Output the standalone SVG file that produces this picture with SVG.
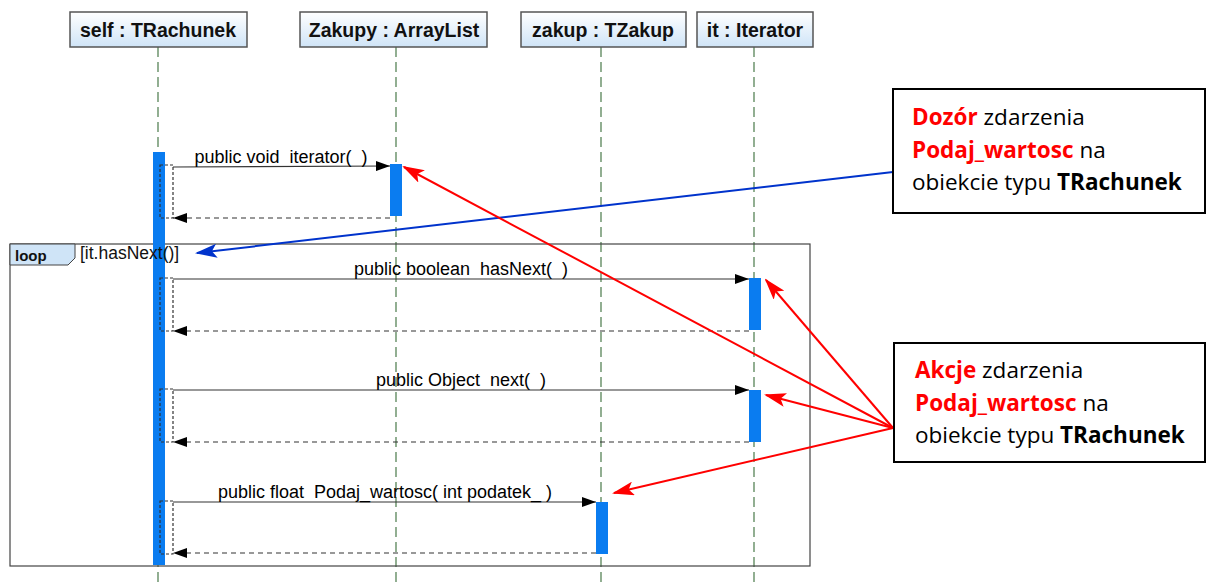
<svg xmlns="http://www.w3.org/2000/svg" width="1207" height="585" viewBox="0 0 1207 585">
<defs>
<linearGradient id="hg" x1="0" y1="0" x2="0" y2="1">
<stop offset="0" stop-color="#ffffff"/>
<stop offset="1" stop-color="#cfe4f7"/>
</linearGradient>
<marker id="ah" markerWidth="14" markerHeight="10" refX="14" refY="5" orient="auto" markerUnits="userSpaceOnUse">
<path d="M0,0 L14,5 L0,10 z" fill="#000"/>
</marker>
<marker id="ar" markerWidth="22" markerHeight="14" refX="20" refY="7" orient="auto" markerUnits="userSpaceOnUse">
<path d="M0,0 L22,7 L0,14 L5,7 z" fill="#ff0000"/>
</marker>
<marker id="ab" markerWidth="22" markerHeight="14" refX="20" refY="7" orient="auto" markerUnits="userSpaceOnUse">
<path d="M0,0 L22,7 L0,14 L5,7 z" fill="#0033cc"/>
</marker>
</defs>
<style>
.hbox{fill:url(#hg);stroke:#555;stroke-width:1.5}
.htxt{font-family:"Liberation Sans",Arial,sans-serif;font-weight:bold;font-size:19.5px;fill:#111;text-anchor:middle}
.life{stroke:#4a7a4a;stroke-width:1.2;stroke-dasharray:10,5}
.act{fill:#0a7cf0}
.msg{stroke:#333;stroke-width:1.2;fill:none}
.ret{stroke:#333;stroke-width:1.2;stroke-dasharray:5,4;fill:none}
.self{stroke:#333;stroke-width:1.2;stroke-dasharray:3,2;fill:none}
.mtxt{font-family:"Liberation Sans",Arial,sans-serif;font-size:18px;fill:#000;text-anchor:middle;white-space:pre}
.note{fill:#fff;stroke:#000;stroke-width:2}
.ntxt{font-family:"Open Sans","Liberation Sans",sans-serif;font-size:22.5px;fill:#000}
.red{fill:#ff0000;font-weight:bold}
.b{font-weight:bold}
</style>
<g id="lifelines">
<line class="life" x1="158" y1="47" x2="158" y2="585"/>
<line class="life" x1="396" y1="47" x2="396" y2="585"/>
<line class="life" x1="601" y1="47" x2="601" y2="585"/>
<line class="life" x1="754" y1="47" x2="754" y2="585"/>
</g>
<g id="self">
<rect class="hbox" x="70" y="12" width="177" height="35"/>
<text class="htxt" x="158" y="37">self : TRachunek</text>
</g>
<g id="zakupy">
<rect class="hbox" x="300" y="12" width="187" height="35"/>
<text class="htxt" x="394" y="37">Zakupy : ArrayList</text>
</g>
<g id="zakup">
<rect class="hbox" x="521" y="12" width="165" height="35"/>
<text class="htxt" x="603" y="37">zakup : TZakup</text>
</g>
<g id="it">
<rect class="hbox" x="697" y="12" width="116" height="35"/>
<text class="htxt" x="755" y="37">it : Iterator</text>
</g>
<g id="loop">
<rect x="10" y="244" width="800" height="322" fill="none" stroke="#444" stroke-width="1.2"/>
<path d="M10,244 L75,244 L75,258 L68,265 L10,265 z" fill="#cfe4f7" stroke="#444" stroke-width="1"/>
<text x="15" y="261" font-family="Liberation Sans,Arial,sans-serif" font-size="15" font-weight="bold" fill="#111">loop</text>
</g>
<g id="activations">
<rect class="act" x="153" y="152" width="12" height="413"/>
<rect class="act" x="390" y="164" width="12" height="52"/>
<rect class="act" x="749" y="278" width="12" height="52"/>
<rect class="act" x="749" y="390" width="12" height="52"/>
<rect class="act" x="596" y="502" width="12" height="52"/>
</g>
<g id="loop-guard">
<text x="80" y="259" font-family="Liberation Sans,Arial,sans-serif" font-size="17.5" fill="#111">[it.hasNext()]</text>
</g>
<g id="connectors">
<rect class="self" x="160" y="165" width="13" height="53"/>
<line class="msg" x1="173" y1="167" x2="390" y2="166" marker-end="url(#ah)"/>
<line class="ret" x1="390" y1="218" x2="173" y2="218" marker-end="url(#ah)"/>
<text class="mtxt" x="281" y="163" xml:space="preserve">public void  iterator(  )</text>
<rect class="self" x="160" y="278" width="13" height="53"/>
<line class="msg" x1="173" y1="279" x2="749" y2="279" marker-end="url(#ah)"/>
<line class="ret" x1="749" y1="331" x2="173" y2="331" marker-end="url(#ah)"/>
<text class="mtxt" x="461" y="275" xml:space="preserve">public boolean  hasNext(  )</text>
<rect class="self" x="160" y="389" width="13" height="53"/>
<line class="msg" x1="173" y1="390" x2="749" y2="390" marker-end="url(#ah)"/>
<line class="ret" x1="749" y1="442" x2="173" y2="442" marker-end="url(#ah)"/>
<text class="mtxt" x="461" y="386" xml:space="preserve">public Object  next(  )</text>
<rect class="self" x="160" y="501" width="13" height="53"/>
<line class="msg" x1="173" y1="502" x2="596" y2="502" marker-end="url(#ah)"/>
<line class="ret" x1="596" y1="553" x2="173" y2="553" marker-end="url(#ah)"/>
<text class="mtxt" x="385" y="498" xml:space="preserve">public float  Podaj_wartosc( int podatek_ )</text>
<line x1="893" y1="172" x2="197" y2="253" stroke="#0033cc" stroke-width="2" marker-end="url(#ab)"/>
<line x1="893" y1="428" x2="404" y2="167" stroke="#ff0000" stroke-width="2" marker-end="url(#ar)"/>
<line x1="893" y1="428" x2="766" y2="280" stroke="#ff0000" stroke-width="2" marker-end="url(#ar)"/>
<line x1="893" y1="428" x2="766" y2="395" stroke="#ff0000" stroke-width="2" marker-end="url(#ar)"/>
<line x1="893" y1="428" x2="614" y2="493" stroke="#ff0000" stroke-width="2" marker-end="url(#ar)"/>
</g>
<g id="note1">
<rect class="note" x="893" y="89" width="312" height="124"/>
<text class="ntxt" x="912" y="125"><tspan class="red">Dozór</tspan> zdarzenia</text>
<text class="ntxt" x="912" y="158"><tspan class="red">Podaj_wartosc</tspan> na</text>
<text class="ntxt" x="912" y="190">obiekcie typu <tspan class="b">TRachunek</tspan></text>
</g>
<g id="note2">
<rect class="note" x="894" y="343" width="311" height="119"/>
<text class="ntxt" x="915" y="378"><tspan class="red">Akcje</tspan> zdarzenia</text>
<text class="ntxt" x="915" y="411"><tspan class="red">Podaj_wartosc</tspan> na</text>
<text class="ntxt" x="915" y="443">obiekcie typu <tspan class="b">TRachunek</tspan></text>
</g>
</svg>
